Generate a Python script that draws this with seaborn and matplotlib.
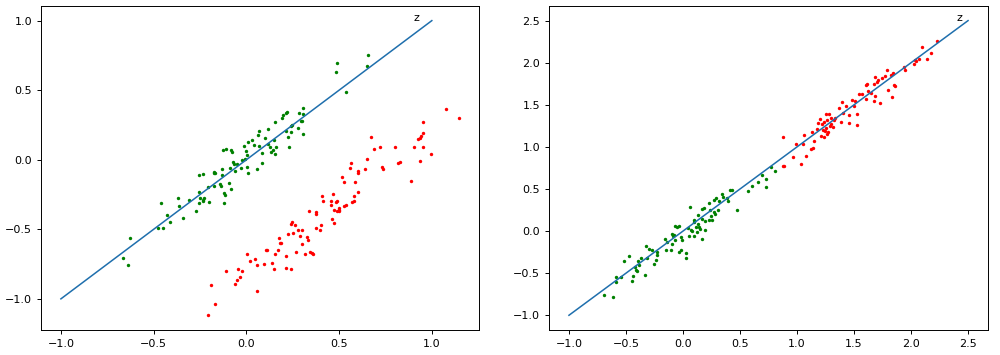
import matplotlib
matplotlib.use("Agg")
import matplotlib.pyplot as plt
import seaborn as sns

# left panel: original points
left_green_x = [-0.664, -0.640, -0.630, -0.479, -0.459, -0.450, -0.430, -0.411, -0.366, -0.364,
                -0.342, -0.312, -0.269, -0.256, -0.234, -0.256, -0.251, -0.254, -0.236, -0.229,
                -0.233, -0.205, -0.200, -0.177, -0.173, -0.170, -0.173, -0.140, -0.136, -0.134,
                -0.132, -0.127, -0.110, -0.123, -0.114, -0.121, -0.094, -0.085, -0.089, -0.084,
                -0.075, -0.071, -0.065, -0.060, -0.053, -0.030, -0.022, -0.015, -0.006, -0.003,
                0.001, 0.003, 0.008, 0.010, 0.033, 0.040, 0.057, 0.064, 0.069, 0.066,
                0.083, 0.083, 0.099, 0.117, 0.117, 0.130, 0.134, 0.143, 0.150, 0.155,
                0.155, 0.161, 0.193, 0.200, 0.213, 0.218, 0.216, 0.223, 0.231, 0.243,
                0.248, 0.243, 0.276, 0.283, 0.294, 0.301, 0.306, 0.308, 0.306, 0.488,
                0.484, 0.537, 0.655, 0.653]
left_green_y = [-0.706, -0.760, -0.564, -0.492, -0.310, -0.490, -0.399, -0.449, -0.272, -0.330,
                -0.418, -0.286, -0.368, -0.112, -0.104, -0.229, -0.272, -0.310, -0.290, -0.277,
                -0.296, -0.193, -0.301, -0.092, -0.085, -0.097, -0.186, -0.171, -0.186, -0.066,
                -0.112, 0.071, 0.075, -0.238, -0.253, -0.313, -0.164, -0.210, -0.061, 0.071,
                0.059, -0.018, -0.032, -0.080, -0.028, -0.056, 0.001, 0.097, 0.008, 0.066,
                0.035, -0.054, -0.092, 0.128, 0.143, 0.107, -0.066, 0.176, 0.207, 0.102,
                0.051, -0.025, 0.159, 0.222, 0.116, 0.095, 0.059, 0.073, 0.145, 0.274,
                0.042, 0.095, 0.301, 0.320, 0.337, 0.344, 0.205, 0.162, 0.090, 0.241,
                0.250, 0.202, 0.231, 0.339, 0.281, 0.279, 0.372, 0.329, 0.186, 0.698,
                0.631, 0.490, 0.751, 0.672]

left_red_x = [-0.206, -0.193, -0.168, -0.110, -0.060, -0.053, -0.046, -0.035, -0.026, 0.003,
              0.022, 0.049, 0.055, 0.060, 0.094, 0.105, 0.109, 0.136, 0.147, 0.153,
              0.168, 0.177, 0.180, 0.189, 0.211, 0.211, 0.225, 0.240, 0.240, 0.247,
              0.252, 0.263, 0.268, 0.279, 0.288, 0.299, 0.301, 0.315, 0.326, 0.333,
              0.337, 0.344, 0.355, 0.360, 0.378, 0.378, 0.376, 0.398, 0.405, 0.409,
              0.413, 0.454, 0.459, 0.461, 0.465, 0.470, 0.475, 0.484, 0.491, 0.491,
              0.497, 0.499, 0.502, 0.513, 0.524, 0.524, 0.537, 0.558, 0.565, 0.571,
              0.578, 0.582, 0.585, 0.600, 0.603, 0.602, 0.639, 0.650, 0.670, 0.688,
              0.722, 0.732, 0.736, 0.802, 0.820, 0.829, 0.889, 0.903, 0.926, 0.935,
              0.941, 0.937, 0.950, 0.951, 0.955, 0.998, 1.075, 1.147]
left_red_y = [-1.118, -0.902, -1.034, -0.799, -0.890, -0.866, -0.787, -0.842, -0.799, -0.679,
              -0.725, -0.713, -0.947, -0.756, -0.751, -0.650, -0.646, -0.741, -0.784, -0.681,
              -0.648, -0.559, -0.600, -0.600, -0.693, -0.777, -0.533, -0.783, -0.459, -0.444,
              -0.526, -0.471, -0.662, -0.502, -0.545, -0.607, -0.505, -0.674, -0.553, -0.578,
              -0.368, -0.660, -0.669, -0.674, -0.377, -0.387, -0.490, -0.502, -0.466, -0.260,
              -0.294, -0.327, -0.294, -0.428, -0.246, -0.361, -0.457, -0.306, -0.294, -0.366,
              -0.344, -0.366, -0.358, -0.126, -0.159, -0.332, -0.327, -0.056, -0.020, -0.306,
              -0.294, -0.260, -0.159, -0.083, -0.097, -0.229, -0.066, 0.004, 0.166, 0.078,
              0.095, -0.051, -0.066, 0.095, -0.020, -0.016, -0.152, 0.095, 0.152, 0.159,
              0.171, -0.008, 0.193, 0.274, 0.095, 0.044, 0.363, 0.301]

# right panel: transformed points
right_green_x = [-0.696, -0.611, -0.588, -0.588, -0.544, -0.518, -0.471, -0.445, -0.442, -0.419,
                 -0.410, -0.401, -0.395, -0.384, -0.369, -0.334, -0.325, -0.316, -0.296, -0.272,
                 -0.252, -0.240, -0.231, -0.225, -0.156, -0.144, -0.150, -0.103, -0.100, -0.094,
                 -0.086, -0.077, -0.074, -0.071, -0.053, -0.039, -0.036, -0.021, -0.013, -0.010,
                 0.023, 0.025, 0.043, 0.052, 0.063, 0.066, 0.078, 0.093, 0.098, 0.101,
                 0.113, 0.121, 0.130, 0.136, 0.139, 0.148, 0.163, 0.168, 0.171, 0.180,
                 0.192, 0.197, 0.224, 0.227, 0.241, 0.244, 0.253, 0.268, 0.276, 0.285,
                 0.291, 0.303, 0.317, 0.338, 0.347, 0.387, 0.399, 0.411, 0.431, 0.475,
                 0.572, 0.601, 0.659, 0.691, 0.729, 0.729, 0.773, 0.805]
right_green_y = [-0.758, -0.778, -0.540, -0.600, -0.540, -0.350, -0.295, -0.596, -0.536, -0.430,
                 -0.457, -0.477, -0.350, -0.398, -0.315, -0.525, -0.172, -0.323, -0.216, -0.224,
                 -0.394, -0.347, -0.247, -0.283, -0.097, -0.125, -0.220, -0.224, -0.156, -0.030,
                 -0.053, -0.042, -0.101, 0.057, 0.053, 0.065, -0.243, -0.065, -0.228, -0.105,
                 -0.259, -0.323, 0.034, -0.057, 0.291, 0.014, 0.006, 0.105, -0.053, 0.133,
                 0.050, -0.010, 0.196, 0.081, 0.046, 0.022, 0.149, 0.263, -0.093, 0.275,
                 0.125, 0.018, 0.335, 0.137, 0.251, 0.184, 0.129, 0.224, 0.374, 0.204,
                 0.390, 0.251, 0.358, 0.441, 0.402, 0.390, 0.362, 0.489, 0.493, 0.251,
                 0.473, 0.533, 0.585, 0.665, 0.622, 0.527, 0.762, 0.710]

right_red_x = [0.876, 0.876, 0.890, 0.969, 0.993, 1.039, 1.054, 1.063, 1.077, 1.121,
               1.133, 1.136, 1.147, 1.179, 1.185, 1.200, 1.209, 1.223, 1.232, 1.238,
               1.241, 1.247, 1.253, 1.256, 1.261, 1.267, 1.276, 1.282, 1.288, 1.296,
               1.302, 1.314, 1.323, 1.337, 1.372, 1.384, 1.396, 1.407, 1.428, 1.457,
               1.460, 1.486, 1.498, 1.512, 1.524, 1.527, 1.545, 1.571, 1.603, 1.609,
               1.618, 1.624, 1.650, 1.673, 1.676, 1.685, 1.688, 1.699, 1.714, 1.726,
               1.749, 1.775, 1.793, 1.796, 1.825, 1.831, 1.846, 1.854, 1.863, 1.934,
               1.945, 2.027, 2.036, 2.045, 2.074, 2.097, 2.141, 2.176, 2.226]
right_red_y = [1.114, 0.770, 0.778, 0.881, 1.031, 0.794, 1.035, 1.146, 0.889, 0.980,
               1.174, 0.984, 1.067, 1.217, 1.289, 1.332, 1.134, 1.277, 1.202, 1.300,
               1.119, 1.194, 1.225, 1.387, 1.324, 1.150, 1.182, 1.391, 1.249, 1.277,
               1.348, 1.233, 1.324, 1.340, 1.467, 1.300, 1.534, 1.407, 1.482, 1.280,
               1.376, 1.554, 1.486, 1.546, 1.261, 1.395, 1.633, 1.633, 1.570, 1.736,
               1.752, 1.669, 1.641, 1.546, 1.752, 1.606, 1.827, 1.767, 1.799, 1.522,
               1.819, 1.843, 1.910, 1.673, 1.851, 1.593, 1.879, 1.732, 1.728, 1.954,
               1.918, 1.985, 2.037, 2.017, 2.049, 2.192, 2.049, 2.112, 2.256]

# reference lines z
left_line = [-1.0, 1.0]
right_line = [-1.0, 2.5]

plt.rcParams['font.size'] = 8
plt.rcParams['axes.linewidth'] = 0.7
plt.rcParams['xtick.major.size'] = 2.8
plt.rcParams['ytick.major.size'] = 2.8
plt.rcParams['xtick.major.width'] = 0.7
plt.rcParams['ytick.major.width'] = 0.7

fig = plt.figure(figsize=(10, 3.55), dpi=100)
ax1 = fig.add_axes([0.041, 0.0704, 0.438, 0.913])
ax2 = fig.add_axes([0.549, 0.0704, 0.439, 0.913])

def draw_panel(ax, gx, gy, rx, ry, line):
    sns.scatterplot(x=gx, y=gy, color='g', s=6, linewidth=0, ax=ax)
    sns.scatterplot(x=rx, y=ry, color='r', s=6, linewidth=0, ax=ax)
    sns.lineplot(x=line, y=line, color='#1f6fad', linewidth=1.1, ax=ax)
    ax.text(line[1] - 0.1, line[1], 'z')

draw_panel(ax1, left_green_x, left_green_y, left_red_x, left_red_y, left_line)
draw_panel(ax2, right_green_x, right_green_y, right_red_x, right_red_y, right_line)

ax1.set_xticks([-1.0, -0.5, 0.0, 0.5, 1.0])
ax1.set_yticks([-1.0, -0.5, 0.0, 0.5, 1.0])
ax2.set_xticks([-1.0, -0.5, 0.0, 0.5, 1.0, 1.5, 2.0, 2.5])
ax2.set_yticks([-1.0, -0.5, 0.0, 0.5, 1.0, 1.5, 2.0, 2.5])

fig.savefig('out.png', dpi=100)
